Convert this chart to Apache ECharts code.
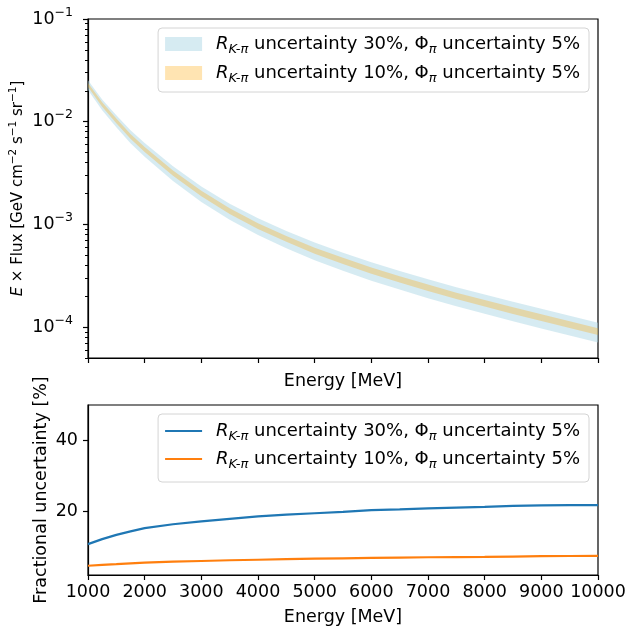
<!DOCTYPE html>
<html>
<head>
<meta charset="utf-8">
<script src="https://cdn.jsdelivr.net/npm/echarts@6/dist/echarts.min.js"></script>
<style>
html,body{margin:0;padding:0;background:#fff;}
#chart{width:629px;height:627px;}
</style>
</head>
<body>
<div id="chart"></div>
<script>
// energies (MeV) where the curves were read
const energy=[1000,1250,1500,1750,2000,2500,3000,3500,4000,4500,5000,5500,6000,6500,7000,7500,8000,8500,9000,9500,10000];

// E x Flux, GeV cm^-2 s^-1 sr^-1
const flux=[0.0228,0.0147,0.0102,0.0072,0.00537,0.00316,0.0020,0.00135,0.000966,0.000724,0.000556,0.000442,0.000356,0.000292,0.000242,0.000202,0.000171,0.000145,0.000124,0.000106,0.0000906];

// fractional uncertainty (%)
const frac30=[10.8,12.2,13.4,14.4,15.3,16.4,17.2,17.9,18.6,19.1,19.5,19.9,20.4,20.6,20.9,21.1,21.3,21.6,21.7,21.8,21.8];
const frac10=[4.7,4.95,5.15,5.4,5.6,5.85,6.05,6.25,6.4,6.55,6.7,6.8,6.9,7.0,7.1,7.15,7.2,7.3,7.4,7.45,7.5];

const fluxMajor=[1e-4,1e-3,1e-2,1e-1];
const fracTicks=[20,40];
const legendText={
    a:"{g|}{i|R}{s|K-π}{n| uncertainty 30%, Φ}{s|π}{n| uncertainty 5%}",
    b:"{g|}{i|R}{s|K-π}{n| uncertainty 10%, Φ}{s|π}{n| uncertainty 5%}"
};

const FONT="DejaVu Sans";
const blueBand="rgba(173,216,230,0.5)";
const goldBand="rgba(255,165,0,0.3)";
const blueLine="#1f77b4";
const orangeLine="#ff7f0e";

const fluxMin=5e-5,fluxMax=0.1;

// minor ticks of the log axis (in log10 units)
const minorTicks=[];
for(let n=-5;n<=-2;n++){
    for(let k=2;k<=9;k++){
        const v=Math.log10(k*Math.pow(10,n));
        if(v>Math.log10(fluxMin)-1e-9&&v<-1) minorTicks.push(v);
    }
}

function band(name,frac,color){
    const lower=flux.map((f,i)=>f*(1-frac[i]/100));
    const upper=flux.map((f,i)=>f*(1+frac[i]/100));
    return {
        type:"custom",
        name:name,
        xAxisIndex:0,
        yAxisIndex:0,
        itemStyle:{color:color},
        data:energy.map((e,i)=>[e,lower[i],upper[i]]),
        encode:{x:0,y:[1,2]},
        renderItem(params,api){
            if(params.dataIndex!==0) return null;
            const pts=[];
            energy.forEach((e,i)=>pts.push(api.coord([e,upper[i]])));
            for(let i=energy.length-1;i>=0;i--) pts.push(api.coord([energy[i],lower[i]]));
            return {type:"polygon",shape:{points:pts},style:{fill:color}};
        }
    };
}

const legendRich={
    g:{width:9},
    i:{fontFamily:FONT,fontSize:18,fontStyle:"italic",lineHeight:24,color:"#000"},
    n:{fontFamily:FONT,fontSize:18,lineHeight:24,color:"#000"},
    s:{fontFamily:FONT,fontSize:13,fontStyle:"italic",lineHeight:13,verticalAlign:"bottom",color:"#000"}
};

const legendBase={
    orient:"vertical",
    right:40,
    itemWidth:37,
    backgroundColor:"rgba(255,255,255,0.8)",
    borderColor:"#d4d4d4",
    borderWidth:1,
    borderRadius:4,
    selectedMode:false,
    formatter:name=>legendText[name.slice(-1)],
    textStyle:{fontFamily:FONT,fontSize:18,color:"#000",rich:legendRich}
};

const axisLine={show:true,lineStyle:{color:"#000",width:1.2}};
const tick={show:true,inside:false,length:5,lineStyle:{color:"#000",width:1.2}};

const chart=echarts.init(document.getElementById("chart"),null,{renderer:"canvas"});

chart.setOption({
    animation:false,
    backgroundColor:"#fff",
    grid:[
        {left:88,right:31,top:19,height:339,outerBoundsMode:"none",containLabel:false,show:true,borderColor:"#000",borderWidth:1.2,backgroundColor:"transparent"},
        {left:88,right:31,top:405,height:170,outerBoundsMode:"none",containLabel:false,show:true,borderColor:"#000",borderWidth:1.2,backgroundColor:"transparent"}
    ],
    legend:[
        Object.assign({},legendBase,{
            top:28,
            itemHeight:14,
            padding:[7,9,7,7],
            itemGap:8,
            data:[
                {name:"band_a",icon:"rect",itemStyle:{color:blueBand}},
                {name:"band_b",icon:"rect",itemStyle:{color:goldBand}}
            ]
        }),
        Object.assign({},legendBase,{
            top:414,
            itemHeight:2.2,
            padding:[8,9,11,7],
            itemGap:7,
            data:[
                {name:"line_a",icon:"rect",itemStyle:{color:blueLine}},
                {name:"line_b",icon:"rect",itemStyle:{color:orangeLine}}
            ]
        })
    ],
    xAxis:[
        {
            type:"value",gridIndex:0,min:1000,max:10000,interval:1000,
            name:"Energy [MeV]",nameLocation:"middle",nameGap:14,
            nameTextStyle:{fontFamily:FONT,fontSize:17.5,color:"#000"},
            axisLine:axisLine,axisTick:tick,axisLabel:{show:false},splitLine:{show:false}
        },
        {
            type:"value",gridIndex:1,min:1000,max:10000,interval:1000,
            name:"Energy [MeV]",nameLocation:"middle",nameGap:33,
            nameTextStyle:{fontFamily:FONT,fontSize:17.5,color:"#000"},
            axisLine:axisLine,axisTick:tick,
            axisLabel:{fontFamily:FONT,fontSize:17.5,color:"#000",margin:8,formatter:v=>String(v)},
            splitLine:{show:false}
        }
    ],
    yAxis:[
        {
            type:"log",logBase:10,gridIndex:0,min:fluxMin,max:fluxMax,
            name:"{i|E}{n| × Flux [GeV cm}{p|−2}{n| s}{p|−1}{n| sr}{p|−1}{n|]}",
            nameLocation:"middle",nameGap:60,nameMoveOverlap:false,
            nameTextStyle:{
                fontFamily:FONT,fontSize:15,color:"#000",
                rich:{
                    i:{fontFamily:FONT,fontSize:15,fontStyle:"italic",lineHeight:20,color:"#000"},
                    n:{fontFamily:FONT,fontSize:15,lineHeight:20,color:"#000"},
                    p:{fontFamily:FONT,fontSize:10.5,lineHeight:10,verticalAlign:"top",color:"#000"}
                }
            },
            axisLine:axisLine,axisTick:tick,splitLine:{show:false},minorTick:{show:false},
            axisLabel:{
                showMinLabel:false,margin:15,
                formatter:v=>{
                    const p=Math.round(Math.log10(v));
                    if(fluxMajor.indexOf(Math.pow(10,p))<0) return "";
                    return "{b|10}{p|−"+Math.abs(p)+"}";
                },
                rich:{
                    b:{fontFamily:FONT,fontSize:17.5,lineHeight:26,color:"#000"},
                    p:{fontFamily:FONT,fontSize:12.5,lineHeight:13,verticalAlign:"top",color:"#000"}
                }
            }
        },
        {
            // log minor ticks
            type:"value",gridIndex:0,position:"left",min:Math.log10(fluxMin),max:-1,
            axisLine:{show:false},axisLabel:{show:false},splitLine:{show:false},
            axisTick:{show:true,inside:false,length:3,customValues:minorTicks,lineStyle:{color:"#000",width:1}}
        },
        {
            type:"value",gridIndex:1,min:2.1,max:50,
            name:"Fractional uncertainty [%]",nameLocation:"middle",nameGap:38,nameMoveOverlap:false,
            nameTextStyle:{fontFamily:FONT,fontSize:17.5,color:"#000"},
            axisLine:axisLine,
            axisTick:Object.assign({},tick,{customValues:fracTicks}),
            axisLabel:{customValues:fracTicks,fontFamily:FONT,fontSize:17.5,color:"#000",margin:10},
            splitLine:{show:false}
        }
    ],
    series:[
        band("band_a",frac30,blueBand),
        band("band_b",frac10,goldBand),
        {
            type:"line",name:"line_a",xAxisIndex:1,yAxisIndex:2,
            symbol:"none",showSymbol:false,
            lineStyle:{color:blueLine,width:2.2},itemStyle:{color:blueLine},
            data:energy.map((e,i)=>[e,frac30[i]])
        },
        {
            type:"line",name:"line_b",xAxisIndex:1,yAxisIndex:2,
            symbol:"none",showSymbol:false,
            lineStyle:{color:orangeLine,width:2.2},itemStyle:{color:orangeLine},
            data:energy.map((e,i)=>[e,frac10[i]])
        }
    ]
});
</script>
</body>
</html>
